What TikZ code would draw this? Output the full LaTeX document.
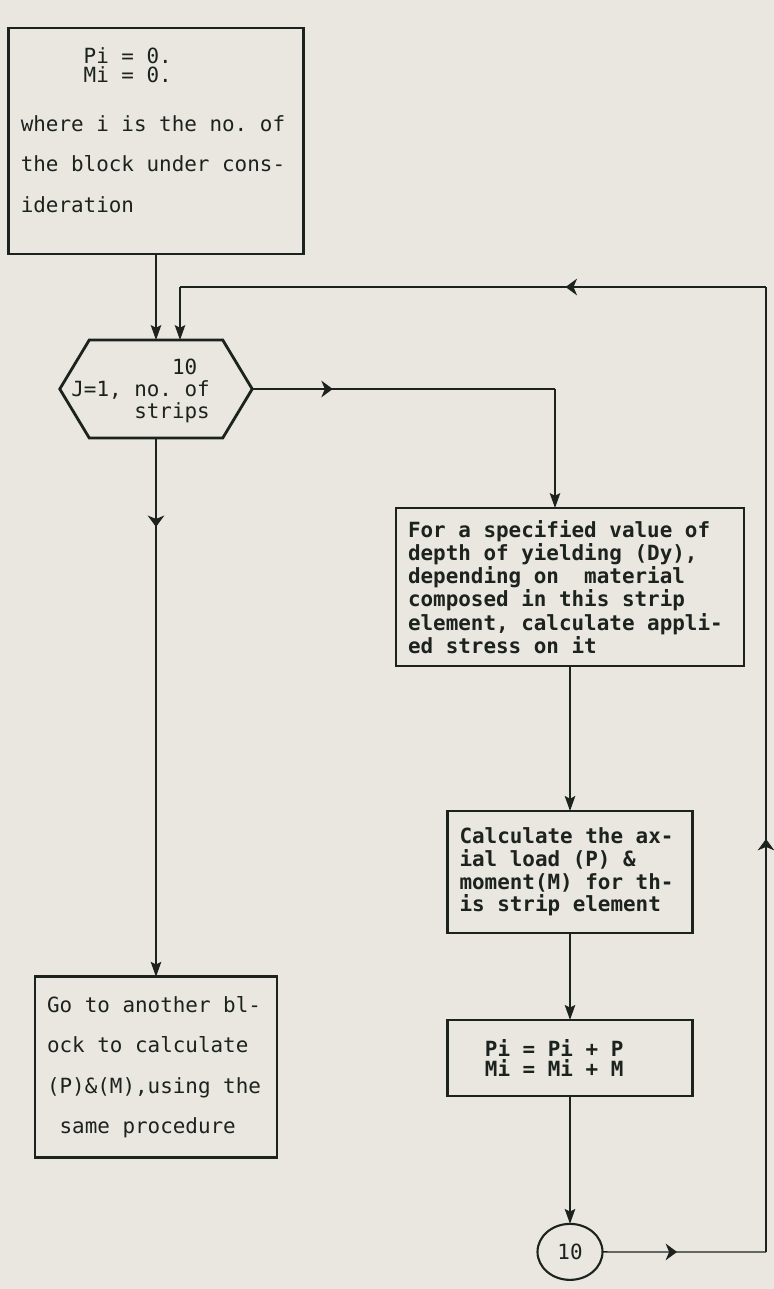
\documentclass[tikz,border=0pt]{standalone}
\usepackage{fontspec}
\setmonofont{DejaVu Sans Mono}
\usetikzlibrary{positioning, shapes.geometric, arrows.meta, decorations.markings, calc}
\definecolor{paper}{RGB}{234,231,224}
\definecolor{ink}{RGB}{28,34,30}
\newcommand\monofont[1]{\ttfamily\frenchspacing\fontsize{11.9}{#1}\selectfont}

\begin{document}
\begin{tikzpicture}[x=0.02cm, y=-0.02cm, color=ink, line width=0.75pt,
    >={Stealth[length=8.5pt,width=6pt,inset=1.5pt]},
    txt/.style={font=\monofont{#1}},
    txtb/.style={font=\bfseries\monofont{#1}},
    block/.style={draw, rectangle, line width=1.6pt, align=flush left, inner xsep=0.24cm, inner ysep=0pt, outer sep=0pt},
    midarrow/.style={postaction={decorate}, decoration={markings,
        mark=at position #1 with {\arrow{Stealth[length=6.5pt,width=9.5pt,inset=2pt]}}}}]
      \fill[paper] (0,0) rectangle (774,1289);
      \useasboundingbox (0,0) rectangle (774,1289);

      % left column
      \node[block, txt=10.8pt, minimum width=5.89cm, minimum height=4.52cm, text width=5.41cm] (init) at (156,141)
        {\hphantom{00000}Pi = 0.\\\hphantom{00000}Mi = 0.\\[17pt]where i is the no. of\\[12.4pt]the block under cons-\\[12.4pt]ideration\\[1.7pt]\mbox{}};
      \node[minimum width=3.85cm, minimum height=1.96cm, inner sep=0pt, outer sep=0pt] (loop) at (156,389) {};
      \draw[line width=1.6pt] (loop.west) -- ($(loop.north west)+(29.5,0)$) -- ($(loop.north east)+(-29.5,0)$)
        -- (loop.east) -- ($(loop.south east)+(-29.5,0)$) -- ($(loop.south west)+(29.5,0)$) -- cycle;
      \node[txt=12.5pt, align=right, anchor=east, inner sep=0pt] (looptxt) at (210.5,391) {10\hphantom{0}\\J=1, no. of\\strips};
      \node[block, txt=23pt, minimum width=4.84cm, minimum height=3.61cm, text width=4.36cm] (other) at (156,1067)
        {Go to another bl-\\ock to calculate\\(P)\&(M),using the\\\hphantom{0}same procedure};

      % right column
      \node[block, txtb=11.2pt, minimum width=6.96cm, minimum height=3.16cm, text width=6.48cm] (stress) at (570,587)
        {For a specified value of\\depth of yielding (Dy),\\depending on\ \ material\\composed in this strip\\element, calculate appli-\\ed stress on it};
      \node[block, txtb=12.9pt, minimum width=4.9cm, minimum height=2.44cm, text width=4.42cm, below=2.9cm of stress] (load)
        {Calculate the ax-\\ial load (P) \&\\moment(M) for th-\\is strip element};
      \node[block, txtb=11.3pt, minimum width=4.89cm, minimum height=1.52cm, text width=4.41cm, below=1.74cm of load] (sum)
        {\hphantom{00}Pi = Pi + P\\\hphantom{00}Mi = Mi + M};
      \node[draw, ellipse, line width=1.2pt, minimum width=1.3cm, minimum height=1.12cm, inner sep=0pt, outer sep=0pt, txt=12pt,
        below=2.56cm of sum] (conn) {10};

      \coordinate (jr) at (555,389);
      \coordinate (tl) at (180,287);
      \coordinate (tr) at (766,287);
      \coordinate (br) at (766,1252);

      \path[->] (init) edge (loop)
            (stress) edge (load)
            (load) edge (sum)
            (sum) edge (conn)
            (tl) edge (tl |- loop.north)
            (jr) edge (jr |- stress.north);
      \draw[midarrow=0.266] (loop) -- (jr);
      \draw[midarrow=0.165, ->] (loop) -- (other);
      \draw[midarrow=0.456] (conn) -- (br);
      \draw[midarrow=0.428] (br) -- (tr);
      \draw[midarrow=0.342] (tr) -- (tl);
\end{tikzpicture}
\end{document}
